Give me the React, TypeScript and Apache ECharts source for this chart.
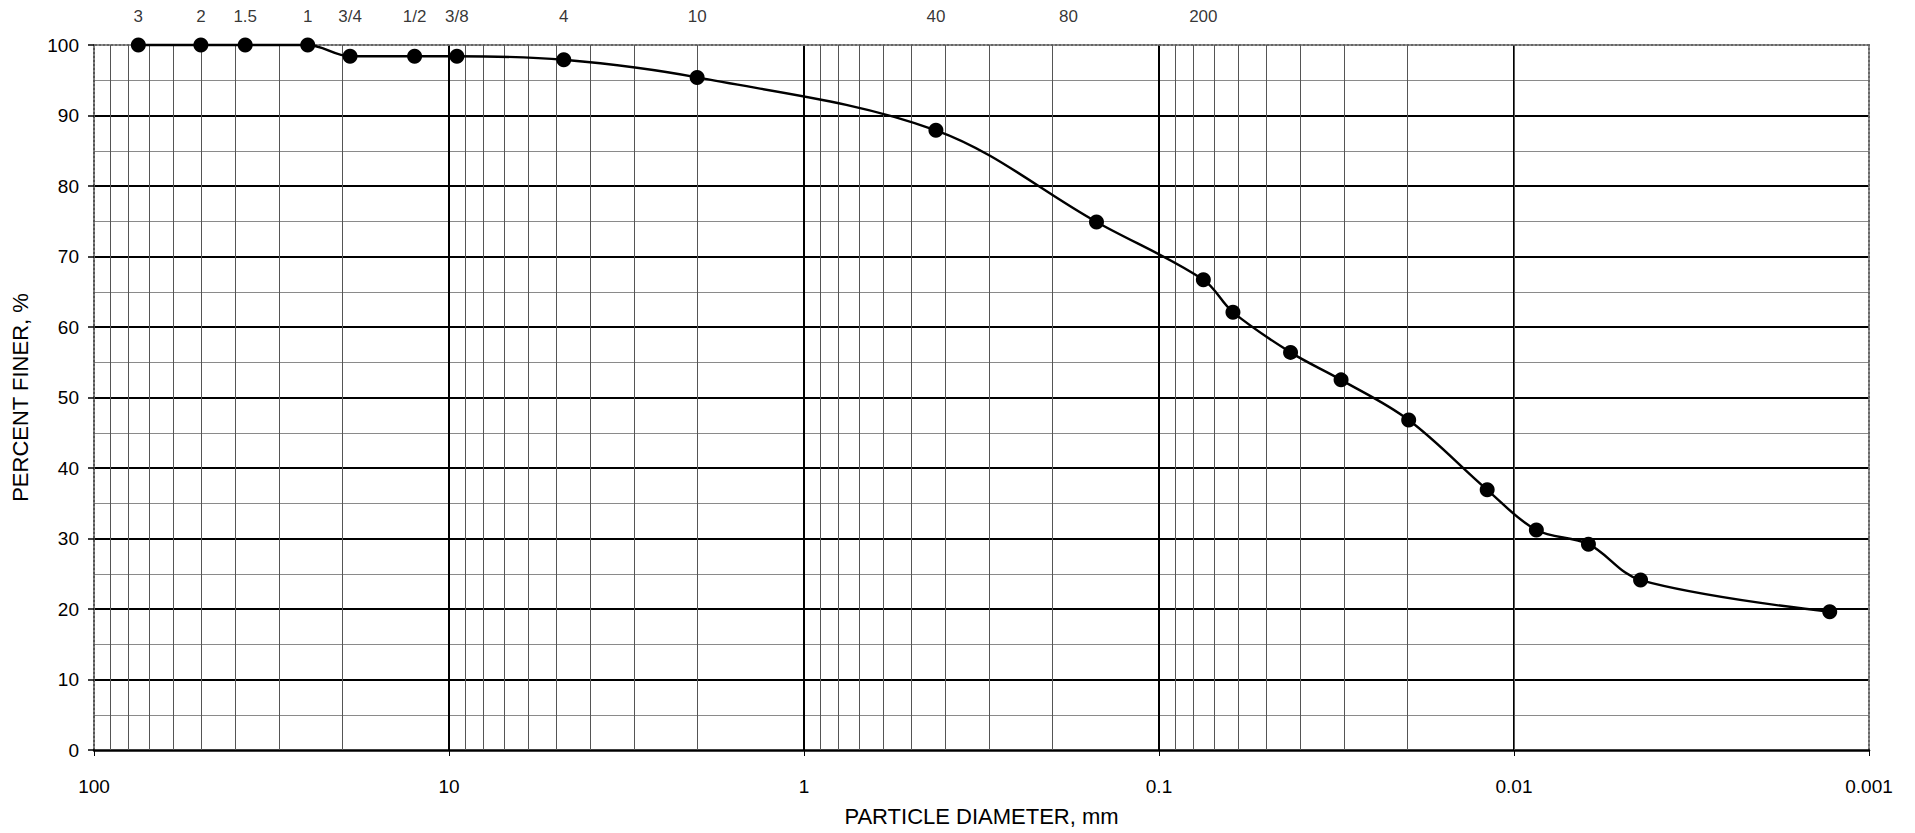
import React, { useEffect, useRef } from "react";
import * as echarts from "echarts";

// Grain-size distribution (sieve + hydrometer)
const diameters = [75, 50, 37.5, 25, 19, 12.5, 9.5, 4.75, 2.0, 0.425, 0.15, 0.075, 0.0619, 0.0426, 0.0307, 0.0198, 0.0119, 0.00865, 0.00617, 0.0044, 0.00129];
const percentFiner = [100, 100, 100, 100, 98.4, 98.4, 98.4, 97.9, 95.4, 87.9, 74.9, 66.7, 62.1, 56.4, 52.5, 46.8, 36.9, 31.2, 29.2, 24.1, 19.6];

// Sieve designations shown along the top
const sieveLabels = ["3", "2", "1.5", "1", "3/4", "1/2", "3/8", "4", "10", "40", "80", "200"];
const sieveSizes = [75, 50, 37.5, 25, 19, 12.5, 9.5, 4.75, 2.0, 0.425, 0.18, 0.075];

// Axis ticks
const xTickValues = [100, 10, 1, 0.1, 0.01, 0.001];
const xTickLabels = ["100", "10", "1", "0.1", "0.01", "0.001"];
const yTickLabels = ["0", "10", "20", "30", "40", "50", "60", "70", "80", "90", "100"];

// Log-grid minor lines: multipliers within each decade
const decadeBases = [10, 1, 0.1, 0.01, 0.001];
const minorMultipliers = [2, 3, 4, 5, 6, 7, 8, 9];

const FONT = "'Liberation Sans', Arial, Helvetica, sans-serif";

export default function App() {
  const ref = useRef<HTMLDivElement>(null);

  useEffect(() => {
    document.body.style.margin = "0";
    document.body.style.overflow = "hidden";
    if (!ref.current) return;
    const chart = echarts.init(ref.current, null, { renderer: "svg" });

    const minorLines: any[] = [];
    decadeBases.forEach((b) => {
      minorMultipliers.forEach((m) => {
        minorLines.push({ xAxis: m * b });
      });
    });

    const clear = "rgba(0,0,0,0)";

    const option: any = {
      animation: false,
      backgroundColor: "#ffffff",
      textStyle: { fontFamily: FONT, color: "#000" },
      grid: { left: 94, right: 46, top: 45, bottom: 83, containLabel: false },
      xAxis: [
        {
          type: "log",
          logBase: 10,
          min: 0.001,
          max: 100,
          inverse: true,
          gridIndex: 0,
          position: "bottom",
          name: "PARTICLE DIAMETER, mm",
          nameLocation: "middle",
          nameGap: 55,
          nameTextStyle: { fontSize: 22, color: "#000", fontFamily: FONT },
          axisLine: { show: true, onZero: false, lineStyle: { color: "#000", width: 2.5 } },
          axisTick: { show: true, length: 6, lineStyle: { color: "#000", width: 1 } },
          axisLabel: {
            show: true,
            fontSize: 19,
            color: "#000",
            fontFamily: FONT,
            margin: 27,
            formatter: (v: number) => {
              const k = Math.round(Math.log10(v));
              const idx = xTickValues.findIndex((t) => Math.round(Math.log10(t)) === k);
              return idx >= 0 ? xTickLabels[idx] : "";
            },
          },
          splitLine: {
            show: true,
            lineStyle: { color: [clear, "#000", "#000", "#000", "#000", clear], width: 2 },
          },
          minorTick: { show: false },
          minorSplitLine: { show: false },
        },
        {
          type: "log",
          logBase: 10,
          min: 0.001,
          max: 100,
          inverse: true,
          gridIndex: 0,
          position: "top",
          axisLine: { show: true, onZero: false, lineStyle: { color: "#666", width: 2, type: "dotted" } },
          axisTick: { show: false },
          axisLabel: { show: false },
          splitLine: { show: false },
        },
      ],
      yAxis: [
        {
          type: "value",
          min: 0,
          max: 100,
          interval: 10,
          gridIndex: 0,
          position: "left",
          name: "PERCENT FINER, %",
          nameLocation: "middle",
          nameRotate: 90,
          nameGap: 63,
          nameTextStyle: { fontSize: 22, color: "#000", fontFamily: FONT },
          axisLine: { show: true, onZero: false, lineStyle: { color: "#555", width: 2, type: "dotted" } },
          axisTick: { show: true, length: 6, lineStyle: { color: "#000", width: 1.5 } },
          axisLabel: {
            show: true,
            fontSize: 19,
            color: "#000",
            fontFamily: FONT,
            margin: 15,
            formatter: (v: number) => yTickLabels[Math.round(v / 10)] ?? String(v),
          },
          splitLine: {
            show: true,
            lineStyle: {
              color: [clear, "#000", "#000", "#000", "#000", "#000", "#000", "#000", "#000", "#000", clear],
              width: 2,
            },
          },
          minorTick: { show: false, splitNumber: 2 },
          minorSplitLine: { show: true, lineStyle: { color: "#8a8a8a", width: 1 } },
        },
        {
          type: "value",
          min: 0,
          max: 100,
          interval: 10,
          gridIndex: 0,
          position: "right",
          axisLine: { show: true, onZero: false, lineStyle: { color: "#666", width: 2, type: "dotted" } },
          axisTick: { show: false },
          axisLabel: { show: false },
          splitLine: { show: false },
        },
      ],
      series: [
        {
          name: "sieves",
          type: "scatter",
          xAxisIndex: 0,
          yAxisIndex: 0,
          silent: true,
          clip: false,
          symbolSize: 1,
          itemStyle: { color: clear },
          data: sieveSizes.map((d) => [d, 100]),
          label: {
            show: true,
            position: "top",
            distance: 20,
            fontSize: 17,
            color: "#000",
            fontFamily: FONT,
            formatter: (p: any) => sieveLabels[p.dataIndex],
          },
          markLine: {
            silent: true,
            symbol: ["none", "none"],
            label: { show: false },
            lineStyle: { color: "#555", width: 1, type: "solid" },
            data: minorLines,
            animation: false,
          },
        },
        {
          name: "Percent finer",
          type: "line",
          xAxisIndex: 0,
          yAxisIndex: 0,
          clip: false,
          smooth: 0.35,
          symbol: "circle",
          symbolSize: 15,
          itemStyle: { color: "#000" },
          lineStyle: { color: "#000", width: 2.4 },
          data: diameters.map((d, i) => [d, percentFiner[i]]),
          z: 5,
        },
      ],
    };

    chart.setOption(option);
    return () => {
      chart.dispose();
    };
  }, []);

  return <div ref={ref} style={{ width: 1915, height: 833, background: "#fff" }} />;
}
